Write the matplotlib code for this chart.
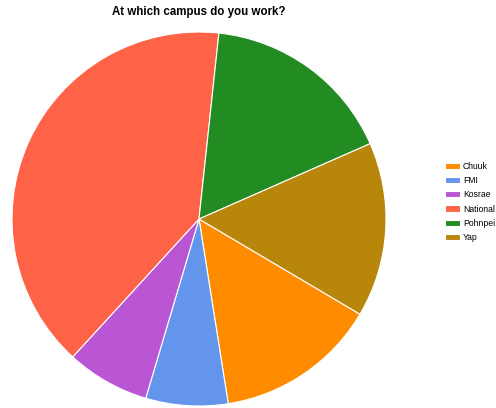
import matplotlib
matplotlib.use("Agg")
import matplotlib.pyplot as plt

# survey answers (share of responses)
campuses = ["Chuuk", "FMI", "Kosrae", "National", "Pohnpei", "Yap"]
shares = [14.0, 7.1, 7.2, 39.9, 16.7, 15.1]
colors = ["#FF8C00", "#6495ED", "#BA55D3", "#FF6347", "#228B22", "#B8860B"]

plt.rcParams['font.family'] = ['Liberation Sans', 'DejaVu Sans']

W, H = 496, 408
fig = plt.figure(figsize=(W / 100, H / 100), dpi=100)

# pie centre ~ (199, 219) px, radius ~187 px
cx, cy, r = 199, 219, 187
ax = fig.add_axes([(cx - r) / W, (H - cy - r) / H, 2 * r / W, 2 * r / H])
wedges, _ = ax.pie(shares, colors=colors, startangle=90 - 120.6, counterclock=False,
                   radius=1.0, wedgeprops=dict(edgecolor="white", linewidth=0.8))
ax.set_xlim(-1, 1); ax.set_ylim(-1, 1)
ax.set_aspect("equal")
ax.axis("off")

fig.text(cx / W, 1 - 12 / H, "At which campus do you work?", ha="center", va="center",
         fontsize=8.3, fontweight="bold")

# legend nudged a little left so the longest labels stay inside the image
fig.legend(wedges, campuses, loc="upper left", bbox_to_anchor=(445 / W, 1 - 162 / H),
           frameon=False, fontsize=6.2, handlelength=1.75, handleheight=0.7,
           labelspacing=0.6, handletextpad=0.35, borderpad=0, borderaxespad=0)

fig.savefig("out.png", dpi=100)
